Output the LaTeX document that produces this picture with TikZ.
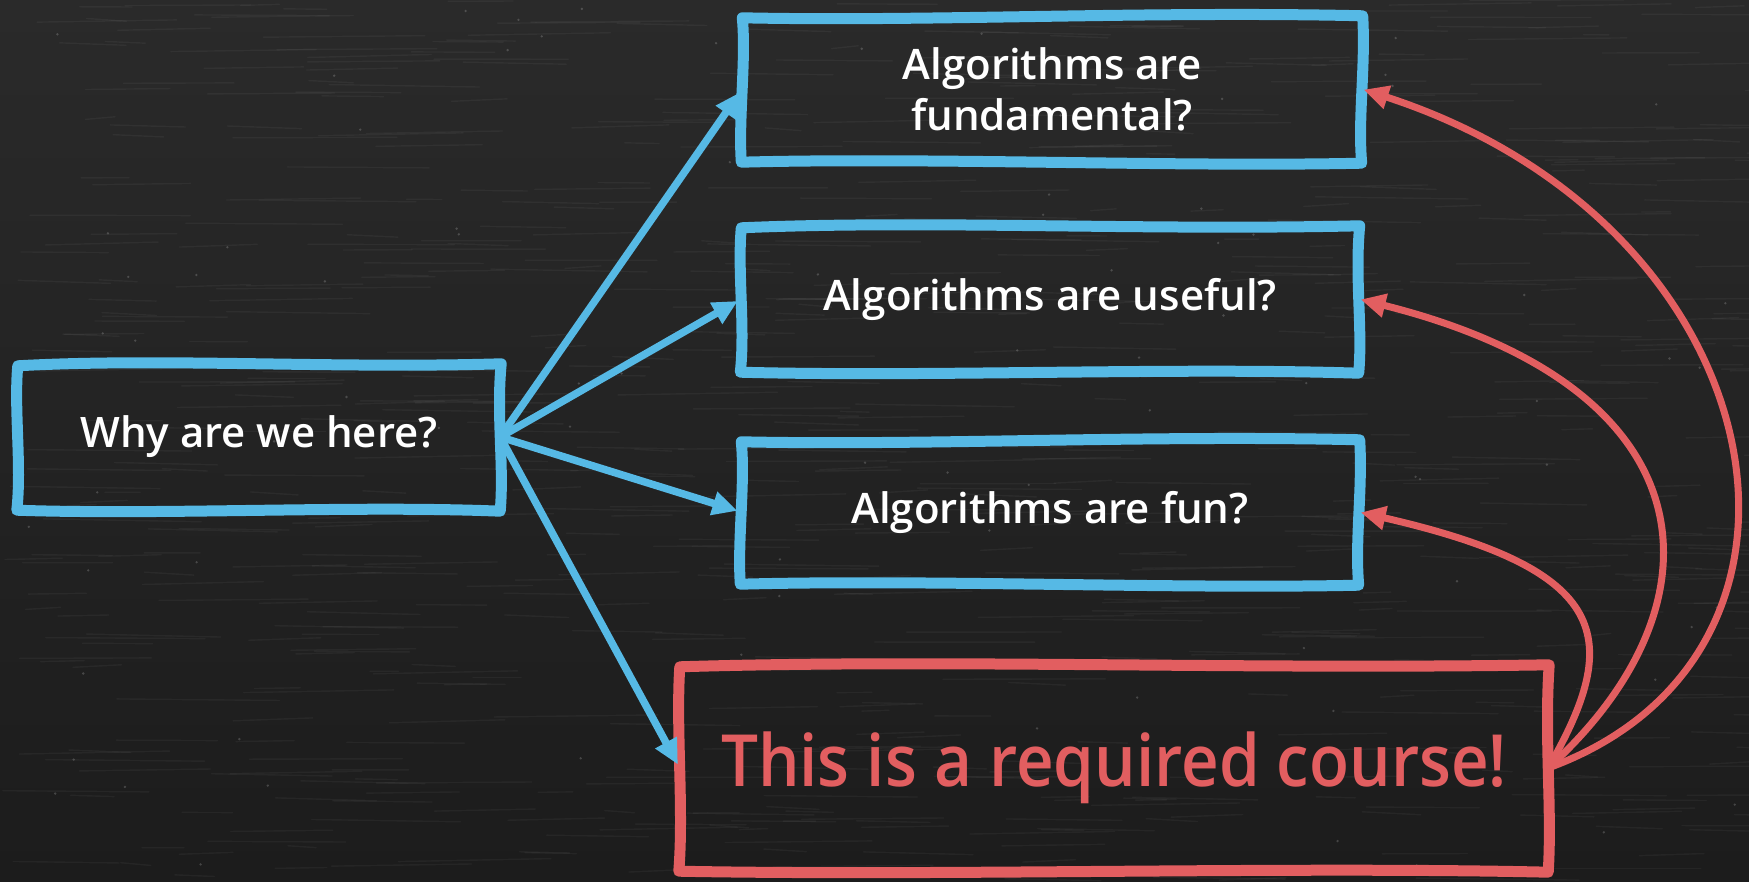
\documentclass[tikz,border=0pt]{standalone}
\usepackage{fontspec}
\setmainfont{Open Sans}[UprightFont={* Semibold}, BoldFont={* Bold}]
\newfontfamily\narrowfont{Open Sans}[UprightFont={* Semibold}, FakeStretch=0.91]
\usetikzlibrary{arrows.meta,calc}

\definecolor{boardtop}{HTML}{2A2A2A}
\definecolor{boardbot}{HTML}{1C1C1C}
\definecolor{chalkblue}{HTML}{56B9E5}
\definecolor{chalkred}{HTML}{E25E60}

% A hand-drawn looking frame around node #1 in colour #2; #3 flips the wobble
\newcommand\handbox[3]{%
  \draw[line width=11pt, line join=round, line cap=round, #2]
    ($(#1.north west)+(0,2)$)
      .. controls ($(#1.north west)!0.3!(#1.north east)+(0,-6*#3)$) and ($(#1.north west)!0.65!(#1.north east)+(0,5*#3)$) .. ($(#1.north east)+(1,0)$)
      .. controls ($(#1.north east)!0.35!(#1.south east)+(-4*#3,0)$) and ($(#1.north east)!0.7!(#1.south east)+(4*#3,0)$) .. ($(#1.south east)+(0,1)$)
      .. controls ($(#1.south east)!0.3!(#1.south west)+(0,-5*#3)$) and ($(#1.south east)!0.7!(#1.south west)+(0,5*#3)$) .. ($(#1.south west)+(-1,0)$)
      .. controls ($(#1.south west)!0.3!(#1.north west)+(4*#3,0)$) and ($(#1.south west)!0.7!(#1.north west)+(-4*#3,0)$) .. ($(#1.north west)+(0,2)$)
      -- cycle;
}

\tikzset{
  question/.style={text=white, font=\fontsize{42}{51}\selectfont, align=center, inner sep=0pt},
  answer/.style={text=chalkred, font=\narrowfont\fontsize{72}{86}\selectfont, align=center, inner sep=0pt},
  bluearrow/.style={chalkblue, line width=7.5pt, line cap=round,
    -{Triangle[length=25pt, width=23pt]}, shorten >=4pt},
  redarrow/.style={chalkred, line width=7pt, line cap=round,
    -{Triangle[length=25pt, width=23pt]}, shorten >=2pt},
  streak/.style={white, opacity=0.045, line width=1.4pt, line cap=round},
  speck/.style={white, opacity=0.18},
}

\begin{document}
\begin{tikzpicture}[x=1pt, y=-1pt]
  % chalkboard
  \useasboundingbox (0,0) rectangle (1749,882);
  \shade[top color=boardtop, bottom color=boardbot] (0,0) rectangle (1749,882);
  \pgfmathsetseed{4242}
  \foreach \i in {1,...,700} {
    \pgfmathsetmacro\sx{rnd*1749}
    \pgfmathsetmacro\sy{rnd*882}
    \pgfmathsetmacro\sl{25+rnd*140}
    \pgfmathsetmacro\sd{rnd*6-3}
    \draw[streak] (\sx,\sy) -- ++(\sl,\sd);
  }
  \foreach \i in {1,...,90} {
    \pgfmathsetmacro\sx{rnd*1749}
    \pgfmathsetmacro\sy{rnd*882}
    \fill[speck] (\sx,\sy) circle[radius=1.3];
  }

  % boxes
  \node[question, minimum width=482pt, minimum height=146pt] (A) at (259,437) {Why are we here?};
  \node[question, minimum width=619pt, minimum height=146pt] (B) at (1052,89) {Algorithms are\\fundamental?};
  \node[question, minimum width=617pt, minimum height=146pt] (C) at (1050,299) {Algorithms are useful?};
  \node[question, minimum width=617pt, minimum height=144pt] (D) at (1050,512) {Algorithms are fun?};
  \node[answer, minimum width=868pt, minimum height=206pt] (E) at (1114,768) {This is a required course!};

  \handbox{A}{chalkblue}{1}
  \handbox{B}{chalkblue}{-1}
  \handbox{C}{chalkblue}{1}
  \handbox{D}{chalkblue}{-1}
  \handbox{E}{chalkred}{1}

  % reasons fanning out
  \draw[bluearrow] (A.east) -- (B.west);
  \draw[bluearrow] (A.east) -- (C.west);
  \draw[bluearrow] (A.east) -- (D.west);
  \draw[bluearrow] (A.east) -- (E.west);

  % the real reason feeds back into all of them
  \draw[redarrow] (E.east) .. controls +(310,-113) and +(418,136) .. (B.east);
  \draw[redarrow] (E.east) .. controls +(178,-161) and +(359,90) .. (C.east);
  \draw[redarrow] (E.east) .. controls +(75,-130) and +(253,58) .. (D.east);
\end{tikzpicture}
\end{document}
